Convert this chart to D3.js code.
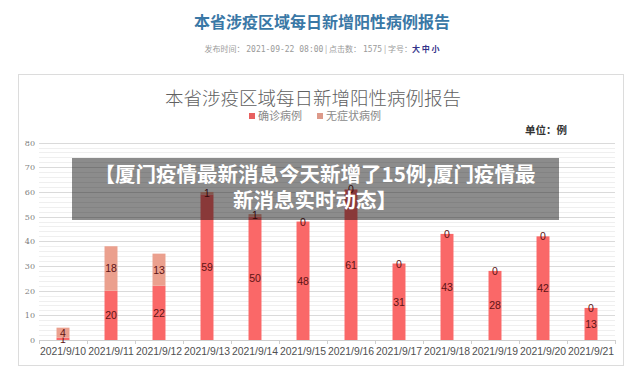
<!DOCTYPE html>
<html>
<head>
  <meta charset="utf-8">
  <title>本省涉疫区域每日新增阳性病例报告</title>
  <script src="https://d3js.org/d3.v7.min.js"></script>
  <style>
    body { margin: 0; background: #fff; }
    svg { display: block; }
  </style>
</head>
<body>
  <div id="chart"></div>
  <script>
    var dates = ['2021/9/10', '2021/9/11', '2021/9/12', '2021/9/13', '2021/9/14', '2021/9/15',
                 '2021/9/16', '2021/9/17', '2021/9/18', '2021/9/19', '2021/9/20', '2021/9/21'];
    var confirmed = [1, 20, 22, 59, 50, 48, 61, 31, 43, 28, 42, 13];
    var asymptomatic = [4, 18, 13, 1, 1, 0, 0, 0, 0, 0, 0, 0];
    var yTicks = [0, 10, 20, 30, 40, 50, 60, 70, 80];
    var seriesNames = ['确诊病例', '无症状病例'];
    var colors = ['#fa6868', '#eba08e'];
    var legendColors = ['#e8605f', '#dd9a8a'];

    var cjk = '"Noto Sans CJK SC", "Noto Sans", sans-serif';

    var svg = d3.select('#chart').append('svg')
        .attr('width', 640)
        .attr('height', 379);

    // page header
    svg.append('text')
        .attr('x', 322).attr('y', 28)
        .attr('text-anchor', 'middle')
        .style('font-family', cjk).style('font-size', '16px').style('font-weight', 'bold')
        .style('fill', '#3a78a6')
        .text('本省涉疫区域每日新增阳性病例报告');

    var meta = svg.append('text')
        .attr('x', 322).attr('y', 52)
        .attr('text-anchor', 'middle')
        .style('font-family', cjk).style('font-size', '8px')
        .style('fill', '#9a9a9a');
    meta.append('tspan').text('发布时间： ');
    meta.append('tspan').style('font-family', '"DejaVu Sans Mono", monospace').text('2021-09-22 08:00');
    meta.append('tspan').text(' | 点击数： ');
    meta.append('tspan').style('font-family', '"DejaVu Sans Mono", monospace').text('1575');
    meta.append('tspan').text(' | 字号：');
    meta.append('tspan').style('fill', '#33338a').style('font-weight', 'bold').text('大 中 小');

    // chart frame
    svg.append('rect')
        .attr('x', 18.5).attr('y', 74.5)
        .attr('width', 605).attr('height', 291)
        .attr('fill', '#fff')
        .attr('stroke', '#dcdcdc');

    svg.append('text')
        .attr('x', 313).attr('y', 105)
        .attr('text-anchor', 'middle')
        .style('font-family', cjk).style('font-size', '18.5px').style('font-weight', 300)
        .style('fill', '#606060')
        .text('本省涉疫区域每日新增阳性病例报告');

    // legend
    var legendX = [249, 317];
    var legend = svg.append('g').selectAll('g')
        .data(seriesNames)
        .enter().append('g')
          .attr('transform', function(d, i) { return 'translate(' + legendX[i] + ',113)'; });
    legend.append('rect')
        .attr('width', 6).attr('height', 6)
        .attr('fill', function(d, i) { return legendColors[i]; });
    legend.append('text')
        .attr('x', 9).attr('y', 7)
        .style('font-family', cjk).style('font-size', '11px')
        .style('fill', '#8a8a8a')
        .text(function(d) { return d; });

    svg.append('text')
        .attr('x', 525).attr('y', 134)
        .style('font-family', cjk).style('font-size', '10.5px').style('font-weight', 'bold')
        .style('fill', '#333')
        .text('单位：例');

    // scales
    var x = d3.scaleBand()
        .domain(dates)
        .range([39, 615])
        .paddingInner(0.73)
        .paddingOuter(0.365);

    var y = d3.scaleLinear()
        .domain([0, 80])
        .range([340, 142.6]);

    // minor + major gridlines
    var minor = d3.range(0, 81, 2).filter(function(v) { return v % 10 !== 0; });
    svg.append('g').selectAll('line')
        .data(minor)
        .enter().append('line')
          .attr('x1', 39).attr('x2', 615)
          .attr('y1', function(d) { return Math.round(y(d)) + 0.5; })
          .attr('y2', function(d) { return Math.round(y(d)) + 0.5; })
          .attr('stroke', '#efefef');
    svg.append('g').selectAll('line')
        .data(yTicks.slice(1))
        .enter().append('line')
          .attr('x1', 39).attr('x2', 615)
          .attr('y1', function(d) { return Math.round(y(d)) + 0.5; })
          .attr('y2', function(d) { return Math.round(y(d)) + 0.5; })
          .attr('stroke', '#dadada');

    // y axis labels
    var yAxis = svg.append('g')
        .attr('transform', 'translate(35,0)')
        .call(d3.axisLeft(y).tickValues(yTicks).tickSize(0).tickPadding(0));
    yAxis.select('.domain').remove();
    yAxis.selectAll('text')
        .style('font-family', '"DejaVu Serif", serif').style('font-size', '8px')
        .style('fill', '#808080');

    // x axis
    var xAxis = svg.append('g')
        .attr('transform', 'translate(0,340)')
        .call(d3.axisBottom(x).tickSize(0).tickPadding(8));
    xAxis.select('.domain').attr('stroke', '#cfcfcf');
    xAxis.selectAll('text')
        .style('font-family', '"Liberation Sans", Arial, sans-serif').style('font-size', '10.4px')
        .style('fill', '#505050');
    svg.append('g').selectAll('line')
        .data(d3.range(dates.length + 1))
        .enter().append('line')
          .attr('x1', function(i) { return Math.round(x.range()[0] + i * x.step()) + 0.5; })
          .attr('x2', function(i) { return Math.round(x.range()[0] + i * x.step()) + 0.5; })
          .attr('y1', 340).attr('y2', 344)
          .attr('stroke', '#cfcfcf');

    // stacked bars
    var rows = dates.map(function(d, i) {
      return { date: d, confirmed: confirmed[i], asymptomatic: asymptomatic[i] };
    });
    var stack = d3.stack().keys(['confirmed', 'asymptomatic'])(rows);

    var layers = svg.append('g').selectAll('g')
        .data(stack)
        .enter().append('g')
          .attr('fill', function(d, i) { return colors[i]; });

    layers.selectAll('rect')
        .data(function(d) { return d; })
        .enter().append('rect')
          .attr('x', function(d) { return x(d.data.date); })
          .attr('width', x.bandwidth())
          .attr('y', function(d) { return y(d[1]); })
          .attr('height', function(d) { return y(d[0]) - y(d[1]); });

    layers.selectAll('text')
        .data(function(d) { return d; })
        .enter().append('text')
          .attr('x', function(d) { return x(d.data.date) + x.bandwidth() / 2; })
          .attr('y', function(d) { return y((d[0] + d[1]) / 2) + 4; })
          .attr('text-anchor', 'middle')
          .style('font-family', '"Liberation Sans", Arial, sans-serif').style('font-size', '10.5px')
          .style('fill', '#5e1414')
          .text(function(d) { return d[1] - d[0]; });

    // overlay banner
    svg.append('rect')
        .attr('x', 72).attr('y', 158)
        .attr('width', 487).attr('height', 62)
        .attr('fill', 'rgba(0,0,0,0.45)');

    var banner = svg.append('text')
        .attr('text-anchor', 'middle')
        .style('font-family', cjk).style('font-size', '20.5px').style('font-weight', 'bold')
        .style('fill', '#fff');
    banner.append('tspan').attr('x', 315).attr('y', 182)
        .text('【厦门疫情最新消息今天新增了15例,厦门疫情最');
    banner.append('tspan').attr('x', 315).attr('y', 208)
        .text('新消息实时动态】');
  </script>
</body>
</html>
